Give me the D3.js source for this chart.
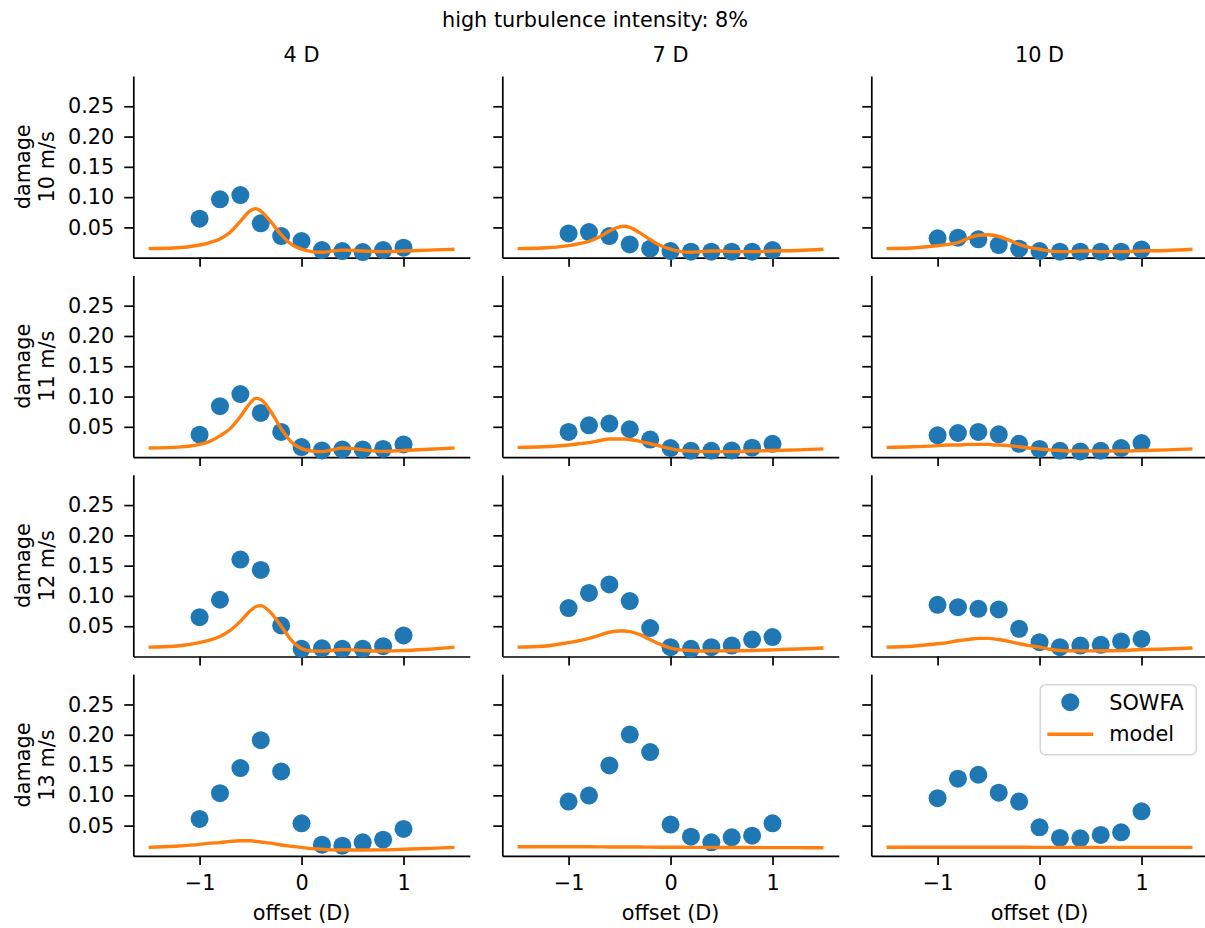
<!DOCTYPE html>
<html>
<head>
<meta charset="utf-8">
<script src="https://cdn.jsdelivr.net/npm/d3@7"></script>
<style>
  body { margin: 0; background: #fff; }
  svg { font-family: "DejaVu Sans", sans-serif; }
</style>
</head>
<body>
<div id="chart"></div>
<script>
// data
const speeds = ["10 m/s", "11 m/s", "12 m/s", "13 m/s"];
const distances = ["4 D", "7 D", "10 D"];
const offsets = [-1, -0.8, -0.6, -0.4, -0.2, 0, 0.2, 0.4, 0.6, 0.8, 1];
const yTicks = [0.05, 0.10, 0.15, 0.20, 0.25];
const xTicks = [-1, 0, 1];

// SOWFA points, one array per distance (4 D, 7 D, 10 D)
const sowfa10 = [
  [0.0645, 0.0964, 0.1035, 0.0567, 0.0357, 0.0275, 0.0126, 0.011, 0.0093, 0.0126, 0.0165],
  [0.040, 0.0424, 0.0357, 0.022, 0.0149, 0.011, 0.0099, 0.0099, 0.0099, 0.0099, 0.0126],
  [0.032, 0.033, 0.0303, 0.0209, 0.0149, 0.011, 0.010, 0.010, 0.010, 0.010, 0.0137]
];
const sowfa11 = [
  [0.037, 0.084, 0.104, 0.073, 0.0415, 0.0166, 0.011, 0.0127, 0.0127, 0.0135, 0.021],
  [0.0415, 0.0525, 0.0553, 0.046, 0.029, 0.0149, 0.0105, 0.0105, 0.011, 0.0155, 0.022],
  [0.036, 0.0398, 0.0415, 0.0376, 0.022, 0.0135, 0.0105, 0.0094, 0.0105, 0.0149, 0.0232]
];
const sowfa12 = [
  [0.065, 0.0937, 0.160, 0.143, 0.0512, 0.0127, 0.0135, 0.0127, 0.0127, 0.017, 0.0347],
  [0.080, 0.105, 0.119, 0.0915, 0.047, 0.0154, 0.0127, 0.0154, 0.018, 0.028, 0.032],
  [0.0854, 0.0815, 0.0788, 0.0777, 0.0457, 0.0237, 0.0154, 0.018, 0.0193, 0.0248, 0.029]
];
const sowfa13 = [
  [0.061, 0.1035, 0.145, 0.191, 0.1395, 0.0538, 0.0185, 0.0169, 0.0224, 0.0268, 0.0445],
  [0.0898, 0.0997, 0.1494, 0.2003, 0.1715, 0.0517, 0.0318, 0.0224, 0.0307, 0.0334, 0.0538],
  [0.0953, 0.1274, 0.134, 0.1043, 0.0898, 0.0472, 0.0296, 0.029, 0.0346, 0.0389, 0.0737]
];

// model curves, sampled at modelX
const modelX = [-1.5, -1.25, -1.0, -0.9, -0.8, -0.7, -0.6, -0.5, -0.45, -0.4, -0.3, -0.2, -0.1,
                0, 0.1, 0.2, 0.3, 0.4, 0.5, 0.6, 0.8, 1.0, 1.25, 1.5];
const model10 = [
  [0.015, 0.016, 0.021, 0.025, 0.031, 0.042, 0.060, 0.078, 0.081, 0.077, 0.059, 0.038, 0.022, 0.014, 0.010, 0.009, 0.011, 0.0125, 0.012, 0.011, 0.010, 0.011, 0.0125, 0.014],
  [0.015, 0.016, 0.020, 0.023, 0.027, 0.034, 0.044, 0.051, 0.052, 0.050, 0.041, 0.030, 0.020, 0.014, 0.010, 0.009, 0.010, 0.011, 0.011, 0.010, 0.010, 0.011, 0.012, 0.014],
  [0.015, 0.016, 0.020, 0.022, 0.025, 0.032, 0.037, 0.038, 0.037, 0.035, 0.029, 0.022, 0.017, 0.014, 0.011, 0.010, 0.010, 0.011, 0.011, 0.010, 0.010, 0.011, 0.012, 0.014]
];
const model11 = [
  [0.015, 0.016, 0.021, 0.026, 0.035, 0.047, 0.067, 0.090, 0.097, 0.095, 0.075, 0.047, 0.025, 0.014, 0.010, 0.009, 0.012, 0.015, 0.014, 0.012, 0.0095, 0.011, 0.013, 0.015],
  [0.016, 0.017, 0.020, 0.022, 0.024, 0.027, 0.030, 0.030, 0.030, 0.029, 0.026, 0.022, 0.018, 0.014, 0.011, 0.010, 0.009, 0.009, 0.009, 0.009, 0.010, 0.011, 0.012, 0.0135],
  [0.016, 0.017, 0.019, 0.020, 0.020, 0.021, 0.021, 0.021, 0.020, 0.020, 0.019, 0.017, 0.015, 0.0135, 0.012, 0.011, 0.010, 0.010, 0.010, 0.010, 0.010, 0.011, 0.012, 0.0135]
];
const model12 = [
  [0.0155, 0.017, 0.023, 0.027, 0.033, 0.043, 0.058, 0.076, 0.082, 0.084, 0.072, 0.050, 0.027, 0.013, 0.009, 0.0088, 0.010, 0.0115, 0.011, 0.010, 0.009, 0.010, 0.012, 0.0155],
  [0.0155, 0.017, 0.023, 0.026, 0.030, 0.035, 0.040, 0.042, 0.042, 0.041, 0.036, 0.028, 0.020, 0.014, 0.011, 0.010, 0.009, 0.0093, 0.0093, 0.0095, 0.010, 0.011, 0.0125, 0.014],
  [0.0155, 0.017, 0.021, 0.023, 0.026, 0.028, 0.030, 0.030, 0.029, 0.028, 0.025, 0.021, 0.018, 0.0155, 0.012, 0.010, 0.0095, 0.0093, 0.0093, 0.0095, 0.010, 0.0115, 0.0125, 0.014]
];
const model13 = [
  [0.014, 0.016, 0.019, 0.021, 0.022, 0.024, 0.025, 0.025, 0.024, 0.023, 0.021, 0.018, 0.016, 0.014, 0.012, 0.011, 0.010, 0.0098, 0.0097, 0.0097, 0.010, 0.011, 0.0125, 0.014],
  [0.0152, 0.0151, 0.015, 0.015, 0.015, 0.0149, 0.0148, 0.0148, 0.0147, 0.0147, 0.0146, 0.0145, 0.0144, 0.0143, 0.0142, 0.0141, 0.014, 0.014, 0.0139, 0.0139, 0.0138, 0.0137, 0.0136, 0.0135],
  [0.0142, 0.0142, 0.0142, 0.0142, 0.0142, 0.0142, 0.0142, 0.0142, 0.0142, 0.0142, 0.0142, 0.0142, 0.0142, 0.0141, 0.0141, 0.0141, 0.0141, 0.0141, 0.0141, 0.0141, 0.0141, 0.0141, 0.0141, 0.0141]
];

const sowfaRows = [sowfa10, sowfa11, sowfa12, sowfa13];
const modelRows = [model10, model11, model12, model13];

// const
const width = 1205;
const height = 928;
const margin = { top: 76, left: 133.3 };
const panelW = 336.5;
const panelH = 181.7;
const gapX = 32.5;
const gapY = 17.7;
const fontSize = 20.8;
const blue = "#1f77b4";
const orange = "#ff7f0e";
const dotR = 9;
const lineW = 3.4;

// svg
const svg = d3.select("#chart")
  .append("svg")
  .attr("width", width)
  .attr("height", height)
  .attr("style", `font-size: ${fontSize}px`);

const x = d3.scaleLinear().domain([-1.65, 1.65]).range([0, panelW]);
const y = d3.scaleLinear().domain([0, 0.30]).range([panelH, 0]);

const line = d3.line()
  .x(d => x(d[0]))
  .y(d => y(d[1]))
  .curve(d3.curveMonotoneX);

svg.append("text")
  .attr("x", 595)
  .attr("y", 27)
  .attr("text-anchor", "middle")
  .text("high turbulence intensity: 8%");

speeds.forEach((speed, r) => {
  distances.forEach((dist, c) => {
    const g = svg.append("g")
      .attr("transform", `translate(${margin.left + c * (panelW + gapX)}, ${margin.top + r * (panelH + gapY)})`);

    // x axis
    g.append("g")
      .attr("transform", `translate(0, ${panelH})`)
      .call(d3.axisBottom(x).tickValues(xTicks).tickSize(9).tickPadding(10).tickSizeOuter(0)
        .tickFormat(r === speeds.length - 1 ? d3.format("d") : ""))
      .call(a => a.selectAll("text").attr("font-size", fontSize).attr("font-family", "DejaVu Sans").attr("fill", "#000"));

    // y axis
    g.append("g")
      .call(d3.axisLeft(y).tickValues(yTicks).tickSize(9).tickPadding(10).tickSizeOuter(0)
        .tickFormat(c === 0 ? d3.format(".2f") : ""))
      .call(a => a.selectAll("text").attr("font-size", fontSize).attr("font-family", "DejaVu Sans").attr("fill", "#000"));

    g.selectAll(".domain, .tick line").attr("stroke", "#000").attr("stroke-width", 1.7);

    const pts = offsets.map((o, i) => [o, sowfaRows[r][c][i]]);
    g.append("g")
      .selectAll("circle")
      .data(pts)
      .join("circle")
      .attr("cx", d => x(d[0]))
      .attr("cy", d => y(d[1]))
      .attr("r", dotR)
      .attr("fill", blue);

    const curve = modelX.map((m, i) => [m, modelRows[r][c][i]]);
    g.append("path")
      .datum(curve)
      .attr("d", line)
      .attr("fill", "none")
      .attr("stroke", orange)
      .attr("stroke-width", lineW);

    if (r === 0) {
      g.append("text")
        .attr("x", panelW / 2)
        .attr("y", -14)
        .attr("text-anchor", "middle")
        .text(dist);
    }
    if (r === speeds.length - 1) {
      g.append("text")
        .attr("x", x(0))
        .attr("y", panelH + 64)
        .attr("text-anchor", "middle")
        .text("offset (D)");
    }
    if (c === 0) {
      const lab = g.append("text")
        .attr("transform", `translate(${-103}, ${panelH / 2}) rotate(-90)`)
        .attr("text-anchor", "middle");
      lab.append("tspan").attr("x", 0).attr("y", 0).text("damage");
      lab.append("tspan").attr("x", 0).attr("y", 23.5).text(speed);
    }
    if (r === speeds.length - 1 && c === distances.length - 1) {
      const leg = g.append("g").attr("transform", "translate(169, 10.5)");
      leg.append("rect")
        .attr("width", 156).attr("height", 70).attr("rx", 5)
        .attr("fill", "#fff").attr("fill-opacity", 0.8)
        .attr("stroke", "#d6d6d6").attr("stroke-width", 1.6);
      leg.append("circle").attr("cx", 30).attr("cy", 17.5).attr("r", dotR).attr("fill", blue);
      leg.append("text").attr("x", 69).attr("y", 25).text("SOWFA");
      leg.append("line").attr("x1", 7).attr("x2", 53).attr("y1", 49.5).attr("y2", 49.5)
        .attr("stroke", orange).attr("stroke-width", lineW);
      leg.append("text").attr("x", 69).attr("y", 56).text("model");
    }
  });
});
</script>
</body>
</html>
